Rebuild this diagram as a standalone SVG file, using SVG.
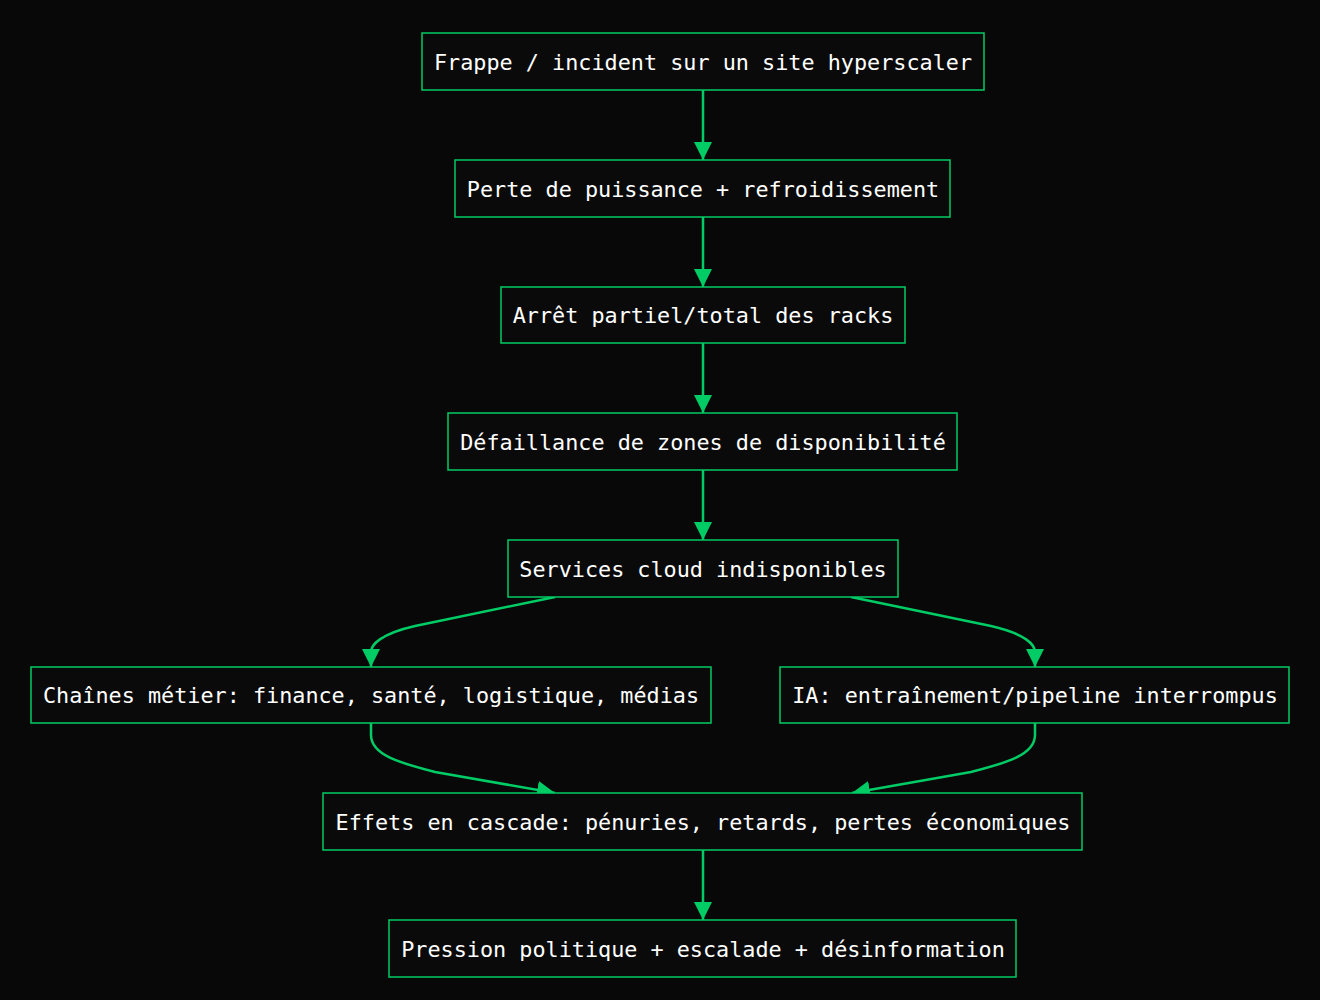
<svg xmlns="http://www.w3.org/2000/svg" width="1320" height="1000" viewBox="0 0 1320 1000">
<style>
.bg{fill:#080808}
.node rect{fill:#0a0a0a;stroke:#00cc66;stroke-width:1.5}
.node text{fill:#ffffff;font-family:"DejaVu Sans Mono","Liberation Mono",monospace;font-size:21.8px;text-anchor:middle;dominant-baseline:central}
.edge{fill:none;stroke:#00cc66;stroke-width:2.5}
</style>
<defs>
<marker id="arr" markerUnits="userSpaceOnUse" markerWidth="18" markerHeight="18" viewBox="0 0 16 16" refX="16" refY="8" orient="auto">
<path d="M0,0 L16,8 L0,16 z" fill="#00cc66"/>
</marker>
</defs>
<rect class="bg" x="0" y="0" width="1320" height="1000"/>
<g id="connectors">
<path class="edge" d="M703,90 L703,160" marker-end="url(#arr)"/>
<path class="edge" d="M703,217 L703,287" marker-end="url(#arr)"/>
<path class="edge" d="M703,343 L703,413" marker-end="url(#arr)"/>
<path class="edge" d="M703,470 L703,540" marker-end="url(#arr)"/>
<path class="edge" d="M555,597 L415,626 C380,634 371,645 371,652 L371,667" marker-end="url(#arr)"/>
<path class="edge" d="M851,597 L991,626 C1026,634 1035,645 1035,652 L1035,667" marker-end="url(#arr)"/>
<path class="edge" d="M371,723 L371,735 C371,755 400,763 435,772 L555,793" marker-end="url(#arr)"/>
<path class="edge" d="M1035,723 L1035,735 C1035,755 1006,763 971,772 L852,793" marker-end="url(#arr)"/>
<path class="edge" d="M703,850 L703,920" marker-end="url(#arr)"/>
</g>
<g id="n1" class="node"><rect x="422" y="33" width="562" height="57"/><text x="703" y="62">Frappe / incident sur un site hyperscaler</text></g>
<g id="n2" class="node"><rect x="455" y="160" width="495" height="57"/><text x="703" y="189">Perte de puissance + refroidissement</text></g>
<g id="n3" class="node"><rect x="501" y="287" width="404" height="56"/><text x="703" y="315">Arrêt partiel/total des racks</text></g>
<g id="n4" class="node"><rect x="448" y="413" width="509" height="57"/><text x="703" y="442">Défaillance de zones de disponibilité</text></g>
<g id="n5" class="node"><rect x="508" y="540" width="390" height="57"/><text x="703" y="569">Services cloud indisponibles</text></g>
<g id="n6" class="node"><rect x="31" y="667" width="680" height="56"/><text x="371" y="695">Chaînes métier: finance, santé, logistique, médias</text></g>
<g id="n7" class="node"><rect x="780" y="667" width="509" height="56"/><text x="1035" y="695">IA: entraînement/pipeline interrompus</text></g>
<g id="n8" class="node"><rect x="323" y="793" width="759" height="57"/><text x="703" y="822">Effets en cascade: pénuries, retards, pertes économiques</text></g>
<g id="n9" class="node"><rect x="389" y="920" width="627" height="57"/><text x="703" y="949">Pression politique + escalade + désinformation</text></g>
</svg>
